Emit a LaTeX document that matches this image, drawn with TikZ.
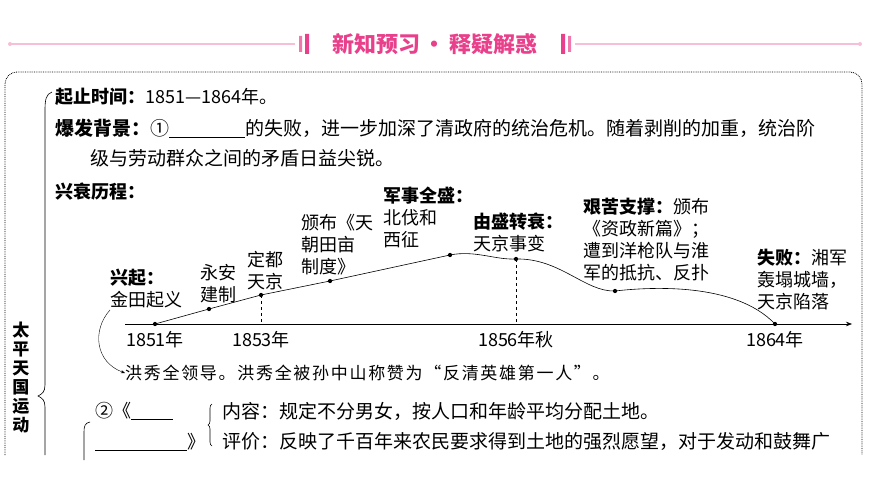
\documentclass[tikz,border=0pt]{standalone}
\usepackage{fontspec}
\setmainfont{Liberation Serif}
\newfontfamily\cjk{Noto Sans CJK SC}
\newfontfamily\cjkwide[LetterSpace=10]{Noto Sans CJK SC}
\usetikzlibrary{arrows.meta,decorations.pathreplacing}
\definecolor{headpink}{RGB}{232,64,138}
\definecolor{linepink}{RGB}{246,190,215}

\begin{document}
\begin{tikzpicture}[x=1pt, y=-1pt, font=\cjk\fontsize{18}{22}\selectfont,
    txt/.style={anchor=west, inner sep=0pt},
    lbl/.style={align=left, inner sep=0pt},
    dot/.style={circle, fill, inner sep=1.5pt}]
    \useasboundingbox (0,0) rectangle (870,489);
    % header
    \draw [linepink, line width=1.5pt] (10,44) -- (295,44);
    \draw [linepink, line width=1.5pt] (575,44) -- (860,44);
    \fill [linepink] (10,44) circle(2pt) (860,44) circle(2pt);
    \fill [headpink!70] (299,36) rectangle (302,52) (568,36) rectangle (571,52);
    \fill [headpink] (305,34) rectangle (309,54) (561,34) rectangle (565,54);
    \node (title) [text=headpink, font=\cjk\bfseries\fontsize{22}{24}\selectfont] at (435,44)
    {新知预习\,·\,释疑解惑};
    % dotted frame
    \draw [densely dotted, line width=0.8pt, rounded corners=12pt]
    (5,455) -- (5,72) -- (862,72) -- (862,455);
    % left brace
    \draw [line width=0.6pt] (52,92) .. controls (46,94) and (45,100) .. (45,110)
    -- (45,385) .. controls (45,392) and (42,394) .. (38,396)
    .. controls (42,398) and (45,400) .. (45,407) -- (45,455);
    \node (topic) [font=\cjk\bfseries\fontsize{17}{19}\selectfont, align=center]
    at (21,378) {太\\平\\天\\国\\运\\动};
    % text lines
    \node (time) [txt] at (55,97) {\textbf{起止时间：}1851—1864年。};
    \node (back) [txt, font=\cjk\fontsize{19}{22}\selectfont] at (55,128) {\textbf{爆发背景：}①\rule[-2pt]{76pt}{0.6pt}的失败，进一步加深了清政府的统治危机。随着剥削的加重，统治阶};
    \node (back2) [txt, font=\cjk\fontsize{19}{22}\selectfont] at (90,158) {级与劳动群众之间的矛盾日益尖锐。};
    \node (course) [txt] at (55,192) {\textbf{兴衰历程：}};
    % axis
    \draw [-{Stealth[length=6pt]}, line width=0.6pt] (125,324) -- (852,324);
    % main coordinates
    \coordinate (y1851) at (155,324);
    \coordinate (yongan) at (209,309);
    \coordinate (y1853) at (261,295);
    \coordinate (tianmu) at (330,281);
    \coordinate (peak) at (450,255);
    \coordinate (y1856) at (516,259);
    \coordinate (zizheng) at (615,291);
    \coordinate (y1864) at (775,324);
    % draw curve
    \draw [line width=0.6pt] (y1851) -- (yongan) -- (y1853) -- (tianmu) -- (peak)
    .. controls (475,250) and (495,260) .. (y1856)
    .. controls (560,258) and (585,292) .. (zizheng)
    .. controls (650,287) and (735,282) .. (y1864);
    \foreach \p in {y1851,yongan,y1853,tianmu,peak,y1856,zizheng,y1864}
    \node [dot] at (\p) {};
    % dashed reference lines
    \draw [dashed, thin] (y1853) -- (y1853|-y1851);
    \draw [dashed, thin] (y1856) -- (y1856|-y1851);
    % year labels
    \node (t1851) at (155,340) {1851年};
    \node (t1853) at (261,340) {1853年};
    \node (t1856) at (516,340) {1856年秋};
    \node (t1864) at (775,340) {1864年};
    % event labels
    \node (rise) [lbl, anchor=south west] at (110,308) {\textbf{兴起：}\\金田起义};
    \node (yongl) [lbl, anchor=south] at (218,303) {永安\\建制};
    \node (capl) [lbl, anchor=south] at (265,290) {定都\\天京};
    \node (land) [lbl, anchor=south] at (337,275) {颁布《天\\朝田亩\\制度》};
    \node (full) [lbl, anchor=south] at (428,248) {\textbf{军事全盛：}\\北伐和\\西征};
    \node (turn) [lbl, anchor=south] at (518,252) {\textbf{由盛转衰：}\\天京事变};
    \node (hard) [lbl, anchor=north west] at (583,198) {\textbf{艰苦支撑：}颁布\\《资政新篇》；\\遭到洋枪队与淮\\军的抵抗、反扑};
    \node (fail) [lbl, anchor=north west] at (757,249) {\textbf{失败：}湘军\\轰塌城墙，\\天京陷落};
    % leader note
    \node (leader) [txt, font=\cjkwide\fontsize{17}{20}\selectfont] at (125,373) {洪秀全领导。洪秀全被孙中山称赞为“反清英雄第一人”。};
    \draw [-{Stealth[length=4pt]}, thin] (rise.south west) ++(0,2)
    .. controls (92,330) and (95,362) .. (leader.west);
    % land system
    \node (land2a) [txt] at (95,411) {②《\rule[-2pt]{42pt}{0.6pt}};
    \node (land2b) [txt] at (95,442) {\rule[-2pt]{92pt}{0.6pt}》};
    \draw [line width=0.6pt] (90,422) .. controls (85,423) and (84,426) .. (84,432) -- (84,460);
    \draw [decorate, decoration={brace, amplitude=4pt}, line width=0.6pt] (212,446) -- (212,404);
    \node (content) [txt, font=\cjk\fontsize{19}{22}\selectfont] at (222,411) {内容：规定不分男女，按人口和年龄平均分配土地。};
    \node (eval) [txt, font=\cjk\fontsize{19}{22}\selectfont] at (222,441) {评价：反映了千百年来农民要求得到土地的强烈愿望，对于发动和鼓舞广};
\end{tikzpicture}
\end{document}
